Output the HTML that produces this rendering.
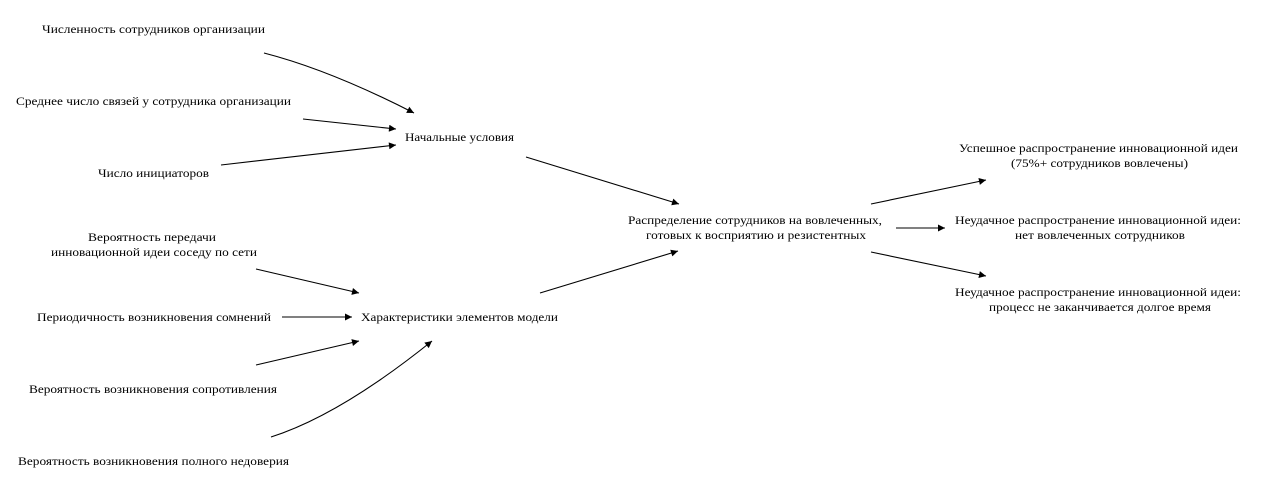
<!DOCTYPE html>
<html><head><meta charset="utf-8"><style>
html,body{margin:0;padding:0;background:#fff;width:1261px;height:491px;overflow:hidden}
text{font-family:"Liberation Serif","DejaVu Serif",serif;font-size:12px;fill:#000}
</style></head><body>
<svg width="1261" height="491" viewBox="0 0 1261 491" xmlns="http://www.w3.org/2000/svg">
<defs><marker id="a" viewBox="0 0 10 10" refX="10" refY="5" markerWidth="9" markerHeight="7" markerUnits="userSpaceOnUse" orient="auto"><path d="M0,0L10,5L0,10z" fill="#000"/></marker></defs>
<g stroke="#000" stroke-width="1.1" fill="none" marker-end="url(#a)">
<path d="M264,53 Q330,70 414,113"/>
<path d="M303,119 L396,129"/>
<path d="M221,165 L396,145"/>
<path d="M526,157 L679,204"/>
<path d="M256,269 L359,293"/>
<path d="M282,317 L352,317"/>
<path d="M256,365 L359,341"/>
<path d="M271,437 Q340,415 432,341"/>
<path d="M540,293 L678,251"/>
<path d="M871,204 L986,180"/>
<path d="M896,228 L945,228"/>
<path d="M871,252 L986,276"/>
</g>
<g text-anchor="middle" lengthAdjust="spacingAndGlyphs">
<text x="153.5" y="33" textLength="223" lengthAdjust="spacingAndGlyphs">Численность сотрудников  организации</text>
<text x="153.5" y="105" textLength="275" lengthAdjust="spacingAndGlyphs">Среднее число связей у сотрудника организации</text>
<text x="153.5" y="177" textLength="111" lengthAdjust="spacingAndGlyphs">Число инициаторов</text>
<text x="152" y="241" textLength="128" lengthAdjust="spacingAndGlyphs">Вероятность передачи</text>
<text x="154" y="256" textLength="206" lengthAdjust="spacingAndGlyphs">инновационной идеи соседу по сети</text>
<text x="154" y="321" textLength="234" lengthAdjust="spacingAndGlyphs">Периодичность возникновения сомнений</text>
<text x="153" y="393" textLength="248" lengthAdjust="spacingAndGlyphs">Вероятность возникновения сопротивления</text>
<text x="153.5" y="465" textLength="271" lengthAdjust="spacingAndGlyphs">Вероятность возникновения полного недоверия</text>
<text x="459.5" y="141" textLength="109" lengthAdjust="spacingAndGlyphs">Начальные условия</text>
<text x="459.5" y="321" textLength="197" lengthAdjust="spacingAndGlyphs">Характеристики элементов модели</text>
<text x="755" y="224" textLength="254" lengthAdjust="spacingAndGlyphs">Распределение сотрудников на вовлеченных,</text>
<text x="756" y="239" textLength="220" lengthAdjust="spacingAndGlyphs">готовых к восприятию и резистентных</text>
<text x="1098.5" y="152" textLength="279" lengthAdjust="spacingAndGlyphs">Успешное распространение инновационной идеи</text>
<text x="1099.5" y="167" textLength="177" lengthAdjust="spacingAndGlyphs">(75%+ сотрудников вовлечены)</text>
<text x="1098" y="224" textLength="286" lengthAdjust="spacingAndGlyphs">Неудачное распространение инновационной идеи:</text>
<text x="1100" y="239" textLength="170" lengthAdjust="spacingAndGlyphs">нет вовлеченных сотрудников</text>
<text x="1098" y="296" textLength="286" lengthAdjust="spacingAndGlyphs">Неудачное распространение инновационной идеи:</text>
<text x="1100" y="311" textLength="222" lengthAdjust="spacingAndGlyphs">процесс не заканчивается долгое время</text>
</g>
</svg>
</body></html>
